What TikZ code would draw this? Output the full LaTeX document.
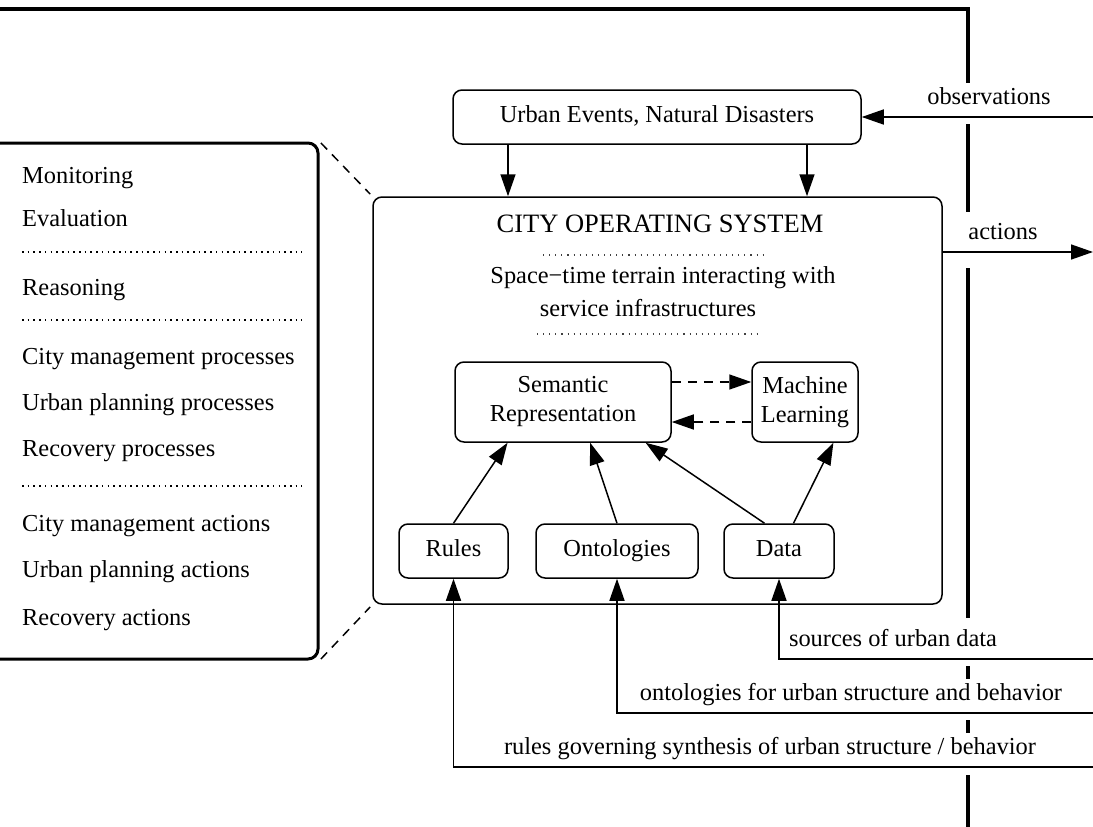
\documentclass[tikz,border=0pt]{standalone}
\usepackage{fontspec}
\setmainfont{Liberation Serif}
\usetikzlibrary{arrows.meta,calc}
\begin{document}
\begin{tikzpicture}[x=1pt,y=-1pt,
  every node/.style={font=\fontsize{24.4}{29}\selectfont},
  box/.style={draw, line width=1.5pt, rounded corners=9pt, inner sep=0pt},
  onebox/.style={box, text height=16pt, text depth=5pt},
  conn/.style={line width=1.5pt},
  arr/.style={conn, -{Triangle[length=22pt,width=15pt]}},
  darr/.style={arr, dash pattern=on 9pt off 7pt},
  heavy/.style={line width=4pt},
  lbl/.style={inner sep=0pt, anchor=base},
  item/.style={inner sep=0pt, anchor=base west},
  sepline/.style={line width=2pt, dash pattern=on 1.6pt off 4.1pt},
  fineline/.style={line width=1.3pt, black!75, dash pattern=on 1.1pt off 5pt},
  zoomline/.style={conn, dash pattern=on 9pt off 7pt}]
\useasboundingbox (0,0) rectangle (1093,827);

% outer thick frame line (broken where labels and lines cross)
\draw[heavy] (0,9) -- (968,9) -- (968,83);
\draw[heavy] (968,124) -- (968,212);
\draw[heavy] (968,268) -- (968,618);
\draw[heavy] (968,666) -- (968,679);
\draw[heavy] (968,720) -- (968,733);
\draw[heavy] (968,775) -- (968,827);

% boxes
\node[onebox, minimum width=408pt, minimum height=54pt] (urban) at (657,117) {Urban Events, Natural Disasters};
\node[box, minimum width=569pt, minimum height=407pt] (cos) at (657.5,400.5) {};
\node[box, minimum width=216pt, minimum height=80pt, align=center] (sr) at (563,402) {Semantic\\Representation};
\node[box, minimum width=106pt, minimum height=80pt, align=center] (ml) at (805,402) {Machine\\Learning};
\node[onebox, minimum width=109pt, minimum height=54pt] (rules) at (453.5,551) {Rules};
\node[onebox, minimum width=162pt, minimum height=54pt] (onto) at (617,551) {Ontologies};
\node[onebox, minimum width=110pt, minimum height=54pt] (data) at (779,551) {Data};

% COS texts
\node[lbl, font=\fontsize{26.5}{30}\selectfont] (title) at (660,232) {CITY OPERATING SYSTEM};
\draw[fineline] (543,255) -- (763,255);
\node[lbl] (st1) at (663,283) {Space−time terrain interacting with};
\node[lbl] (st2) at (648,316) {service infrastructures};
\draw[fineline] (537,334) -- (757,334);

% left box
\node[draw, line width=3pt, rounded corners=10pt, inner sep=0pt, minimum width=338pt, minimum height=516pt] (left) at (149,401) {};
\node[item] (i1) at (22,183) {Monitoring};
\node[item] (i2) at (22,226) {Evaluation};
\draw[sepline] (22,252) -- (302,252);
\node[item] (i3) at (22,295) {Reasoning};
\draw[sepline] (22,320) -- (302,320);
\node[item] (i4) at (22,364) {City management processes};
\node[item] (i5) at (22,410) {Urban planning processes};
\node[item] (i6) at (22,456) {Recovery processes};
\draw[sepline] (22,486) -- (302,486);
\node[item] (i7) at (22,531) {City management actions};
\node[item] (i8) at (22,577) {Urban planning actions};
\node[item] (i9) at (22,625) {Recovery actions};

% zoom lines
\draw[zoomline, shorten <=2pt, shorten >=3pt] (left.north east) -- (cos.north west);
\draw[zoomline, shorten <=2pt, shorten >=3pt] (left.south east) -- (cos.south west);

% connectors
\draw[arr] ([xshift=-149pt]urban.south) -- ([xshift=-149pt]urban.south |- cos.north);
\draw[arr] ([xshift=150pt]urban.south) -- ([xshift=150pt]urban.south |- cos.north);
\coordinate (obs) at (1093,117);
\coordinate (act) at (1093,252);
\draw[arr] (obs) -- (urban.east);
\draw[arr] (cos.east |- act) -- (act);
\node[lbl] (obsl) at (989,104) {observations};
\node[lbl] (actl) at (1003,239) {actions};

\draw[darr] ([yshift=20pt]sr.east) -- ([yshift=20pt]sr.east -| ml.west);
\draw[darr] ([yshift=-20pt]ml.west) -- ([yshift=-20pt]ml.west -| sr.east);

\draw[arr] (rules.north) -- ($(sr.south west)!0.245!(sr.south east)$);
\draw[arr] (onto.north) -- ($(sr.south west)!0.625!(sr.south east)$);
\draw[arr] ($(data.north west)!0.37!(data.north east)$) -- ($(sr.south west)!0.88!(sr.south east)$);
\draw[arr] ($(data.north west)!0.63!(data.north east)$) -- ($(ml.south west)!0.764!(ml.south east)$);

\coordinate (src) at (1093,659);
\coordinate (ont) at (1093,713);
\coordinate (rul) at (1093,767);
\draw[arr] (src) -| (data.south);
\draw[arr] (ont) -| (onto.south);
\draw[arr] (rul) -| (rules.south);
\node[lbl] (srcl) at (893,646) {sources of urban data};
\node[lbl] (ontl) at (851,700) {ontologies for urban structure and behavior};
\node[lbl] (rull) at (770,754) {rules governing synthesis of urban structure / behavior};
\end{tikzpicture}
\end{document}
